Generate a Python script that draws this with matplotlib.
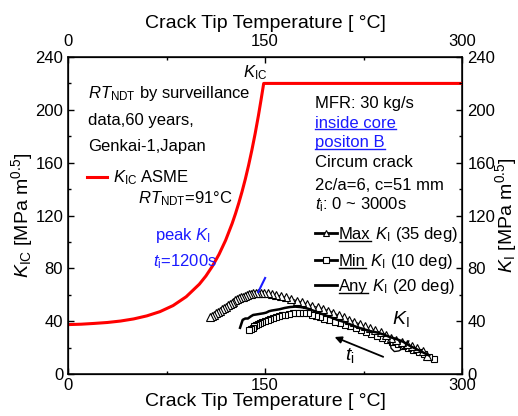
import matplotlib
matplotlib.use('Agg')
import matplotlib.pyplot as plt
from matplotlib.lines import Line2D
from matplotlib.transforms import IdentityTransform

plt.rcParams['font.family'] = ['Liberation Sans', 'DejaVu Sans']
plt.rcParams['mathtext.fontset'] = 'custom'
plt.rcParams['mathtext.rm'] = 'Liberation Sans'
plt.rcParams['mathtext.it'] = 'Liberation Sans:italic'
plt.rcParams['mathtext.bf'] = 'Liberation Sans:bold'

# K_IC ASME curve (RT_NDT = 91 C)
asme_T = [0, 10, 20, 30, 40, 50, 60, 70, 80, 90, 100, 105, 110, 115, 120, 125,
          127.5, 130, 132.5, 135, 137.5, 140, 142.5, 145, 147, 149, 300]
asme_K = [37.4, 37.7, 38.3, 39.0, 40.1, 41.7, 44.0, 47.2, 51.8, 58.5, 68.0, 74.2,
          81.7, 90.6, 101.2, 114.0, 121.3, 129.3, 138.0, 147.5, 158.0, 169.5,
          182.0, 195.7, 207.6, 220, 220]

# Max K_I (35 deg), triangles
max_T = [273, 270, 266, 262, 258, 254, 250, 246, 242, 238,
         234, 230, 226, 222, 218, 214, 210, 206, 202, 198,
         194, 190, 186, 182, 178, 174, 170, 166, 162, 158,
         155, 152, 149.5, 147, 145, 143, 141, 139.5, 138, 136.5,
         135, 133.5, 132, 130.5, 129, 127.5, 126, 124.5, 123, 121.5,
         120, 118.5, 117, 115.5, 114, 112.5, 111, 109.5, 108]
max_K = [14, 17.5, 19.5, 21, 22.5, 24, 25.5, 27.5, 29.5, 31.5,
         33, 34.5, 36, 38, 39.5, 41, 43, 44.5, 46.5, 48,
         49.5, 50.5, 51.5, 53, 54.5, 55.5, 57, 58, 59, 60,
         60.5, 61, 61.3, 61.5, 61.5, 61.3, 61, 60.7, 60.3, 59.8,
         59.2, 58.6, 58, 57.3, 56.5, 55.7, 54.8, 53.9, 53, 52,
         51, 50, 49, 48, 47, 46, 45, 44, 43]

# Min K_I (10 deg), squares
min_T = [279, 275, 271, 267, 263, 259, 255, 251, 247, 243,
         239, 235, 231, 227, 223, 219, 215, 211, 207, 203,
         199, 195, 192, 189, 186, 183, 180, 177, 174, 171,
         168, 165.5, 163, 160.5, 158, 156, 154, 152, 150, 148,
         146.5, 145, 143.5, 142, 140.5, 139, 137.5]
min_K = [11, 13, 15, 16.5, 18, 19.5, 21, 22.5, 24, 25.5,
         27, 28.5, 30, 31.5, 33, 34.5, 36, 37, 38.5, 39.5,
         41, 42, 43, 44, 45, 46, 46.5, 46.5, 46.3, 46,
         45.5, 45, 44.5, 44, 43.3, 42.5, 41.8, 41, 40.2, 39.4,
         38.6, 37.8, 37, 36, 35, 34, 33]

# Any K_I (20 deg), solid line
any_T = [275, 270, 265, 260, 255, 250, 245, 240, 235, 230, 225, 220, 215, 210,
         205, 200, 196, 192, 188, 184, 181, 177, 173, 169, 165, 161, 158, 155,
         153, 151, 149, 146, 143, 141, 139, 137, 135, 133, 132, 131]
any_K = [14, 16.5, 19, 21.5, 24.5, 26.5, 28, 30, 31.5, 32.5, 34, 35.5, 37.5, 39.5,
         41, 43, 44.5, 46, 47.5, 49, 50, 50.7, 51, 50.7, 50, 49, 48.5, 48,
         47.5, 46.5, 46, 45.5, 45, 44.7, 43.5, 42, 42, 41, 38, 35]

# small hand-drawn curl under the K_I label
curl_T = [245, 246, 248.5, 252, 256, 259.5]
curl_K = [25, 19.5, 17, 17.5, 20, 25]

fig = plt.figure(figsize=(5.18, 4.16), dpi=100)
ax = fig.add_axes([68 / 518, 1 - 374 / 416, (462 - 68) / 518, (374 - 57) / 416])

ax.plot(asme_T, asme_K, color='#ff0000', lw=2.2, zorder=3)
ax.plot(min_T, min_K, 's-', color='black', mfc='white', mec='black',
        ms=4, mew=0.8, lw=0.8)
ax.plot(max_T, max_K, '^-', color='black', mfc='white', mec='black',
        ms=5.5, mew=0.8, lw=0.8)
ax.plot(any_T, any_K, color='black', lw=1.8)
ax.plot(curl_T, curl_K, color='black', lw=1.0)

ax.set_xlim(0, 300)
ax.set_ylim(0, 240)
ax.set_xticks([0, 150, 300])
ax.set_xticks([75, 225], minor=True)
ax.set_yticks(range(0, 241, 40))
ax.set_yticks(range(20, 240, 40), minor=True)
ax.tick_params(which='both', direction='in', labelsize=12, width=1)
ax.tick_params(which='major', length=4)
ax.tick_params(which='minor', length=2.5)
ax.tick_params(axis='x', pad=3)
ax.tick_params(axis='y', pad=3.5)
for s in ax.spines.values():
    s.set_linewidth(1.1)
ax.set_xlabel('Crack Tip Temperature [ °C]', fontsize=14, labelpad=0)
ax.set_ylabel(r'$K_\mathrm{IC}$ [MPa m$^{0.5}$]', fontsize=14, labelpad=0)

# top axis
ax_top = ax.twiny()
ax_top.set_xlim(0, 300)
ax_top.set_xticks([0, 150, 300])
ax_top.set_xticks([75, 225], minor=True)
ax_top.tick_params(which='both', direction='in', labelsize=12, width=1, pad=6)
ax_top.tick_params(which='major', length=4)
ax_top.tick_params(which='minor', length=2.5)
ax_top.set_xlabel('Crack Tip Temperature [ °C]', fontsize=14, labelpad=4)

# right axis
ax_r = ax.twinx()
ax_r.set_ylim(0, 240)
ax_r.set_yticks(range(0, 241, 40))
ax_r.set_yticks(range(20, 240, 40), minor=True)
ax_r.tick_params(which='both', direction='in', labelsize=12, width=1, pad=4)
ax_r.tick_params(which='major', length=4)
ax_r.tick_params(which='minor', length=2.5)
ax_r.set_ylabel(r'$K_\mathrm{I}$ [MPa m$^{0.5}$]', fontsize=14, labelpad=-2)

# left text block
ax.text(15, 212.5, r'$RT_\mathrm{NDT}$ by surveillance', fontsize=12, va='center')
ax.text(15, 192.3, 'data,60 years,', fontsize=12, va='center')
ax.text(15, 172.6, 'Genkai-1,Japan', fontsize=12, va='center')
ax.plot([14.5, 29.7], [149, 149], color='#ff0000', lw=2.2)
ax.text(34.3, 149, r'$K_\mathrm{IC}$ ASME', fontsize=12, va='center')
ax.text(53.3, 133, r'$RT_\mathrm{NDT}$=91°C', fontsize=12, va='center')
ax.text(133, 228, r'$K_\mathrm{IC}$', fontsize=12, va='center')

# peak annotation
blue = '#1a1aff'
ax.text(66, 104.5, r'peak $K_\mathrm{I}$', fontsize=12, va='center', color=blue)
ax.text(64.7, 84.8, r'$t_\mathrm{i}$=1200s', fontsize=12, va='center', color=blue)
ax.plot([150.1, 144.8], [72.7, 62], color=blue, lw=1.5)

# K_I label and time arrow
ax.text(247, 42, r'$K_\mathrm{I}$', fontsize=14, va='center')
ax.text(211, 14, r'$t_\mathrm{i}$', fontsize=14, va='center')
ax.annotate('', xy=(203, 28), xytext=(240, 13),
            arrowprops=dict(arrowstyle='-|>', color='black', lw=1.3,
                            mutation_scale=10, shrinkA=0, shrinkB=0))

# right text block
ax.text(188, 205, 'MFR: 30 kg/s', fontsize=12, va='center')
t_core = ax.text(188, 190, 'inside core', fontsize=12, va='center', color=blue)
t_pos = ax.text(188, 175, 'positon B', fontsize=12, va='center', color=blue)
ax.text(188, 160, 'Circum crack', fontsize=12, va='center')
ax.text(188, 143, '2c/a=6, c=51 mm', fontsize=12, va='center')
ax.text(188, 128, r'$t_\mathrm{i}$: 0 ~ 3000s', fontsize=12, va='center')

# hand-made legend rows
rows = [('^', 'Max', r' $K_\mathrm{I}$ (35 deg)', 106.7),
        ('s', 'Min', r' $K_\mathrm{I}$ (10 deg)', 86.3),
        (None, 'Any', r' $K_\mathrm{I}$ (20 deg)', 67.4)]
row_texts = []
for mk, word, rest, yc in rows:
    if mk is None:
        ax.plot([188, 205], [yc, yc], color='black', lw=2)
    else:
        ax.plot([188, 196.5, 205], [yc, yc, yc], '-', color='black', lw=2,
                marker=mk, markevery=[1], mfc='white', mec='black',
                ms=5 if mk == '^' else 4, mew=0.8)
    yb = yc - 4.6
    t1 = ax.text(206.4, yb, word, fontsize=12, va='baseline')
    row_texts.append((t1, rest, yb))

fig.canvas.draw()
renderer = fig.canvas.get_renderer()
inv = ax.transData.inverted()


def underline(t, color):
    bb = t.get_window_extent(renderer)
    y = bb.y0 + 1.8
    fig.add_artist(Line2D([bb.x0, bb.x1], [y, y], color=color, lw=1.0,
                          transform=IdentityTransform()))


def underline_base(t, yb, color):
    bb = t.get_window_extent(renderer)
    y = ax.transData.transform((0, yb))[1] - 2
    fig.add_artist(Line2D([bb.x0, bb.x1], [y, y], color=color, lw=1.0,
                          transform=IdentityTransform()))


underline(t_core, blue)
underline(t_pos, blue)
for t1, rest, yb in row_texts:
    bb = t1.get_window_extent(renderer)
    x_end = inv.transform((bb.x1, bb.y0))[0]
    ax.text(x_end, yb, rest, fontsize=12, va='baseline')
    underline_base(t1, yb, 'black')

fig.savefig('out.png', dpi=100)
